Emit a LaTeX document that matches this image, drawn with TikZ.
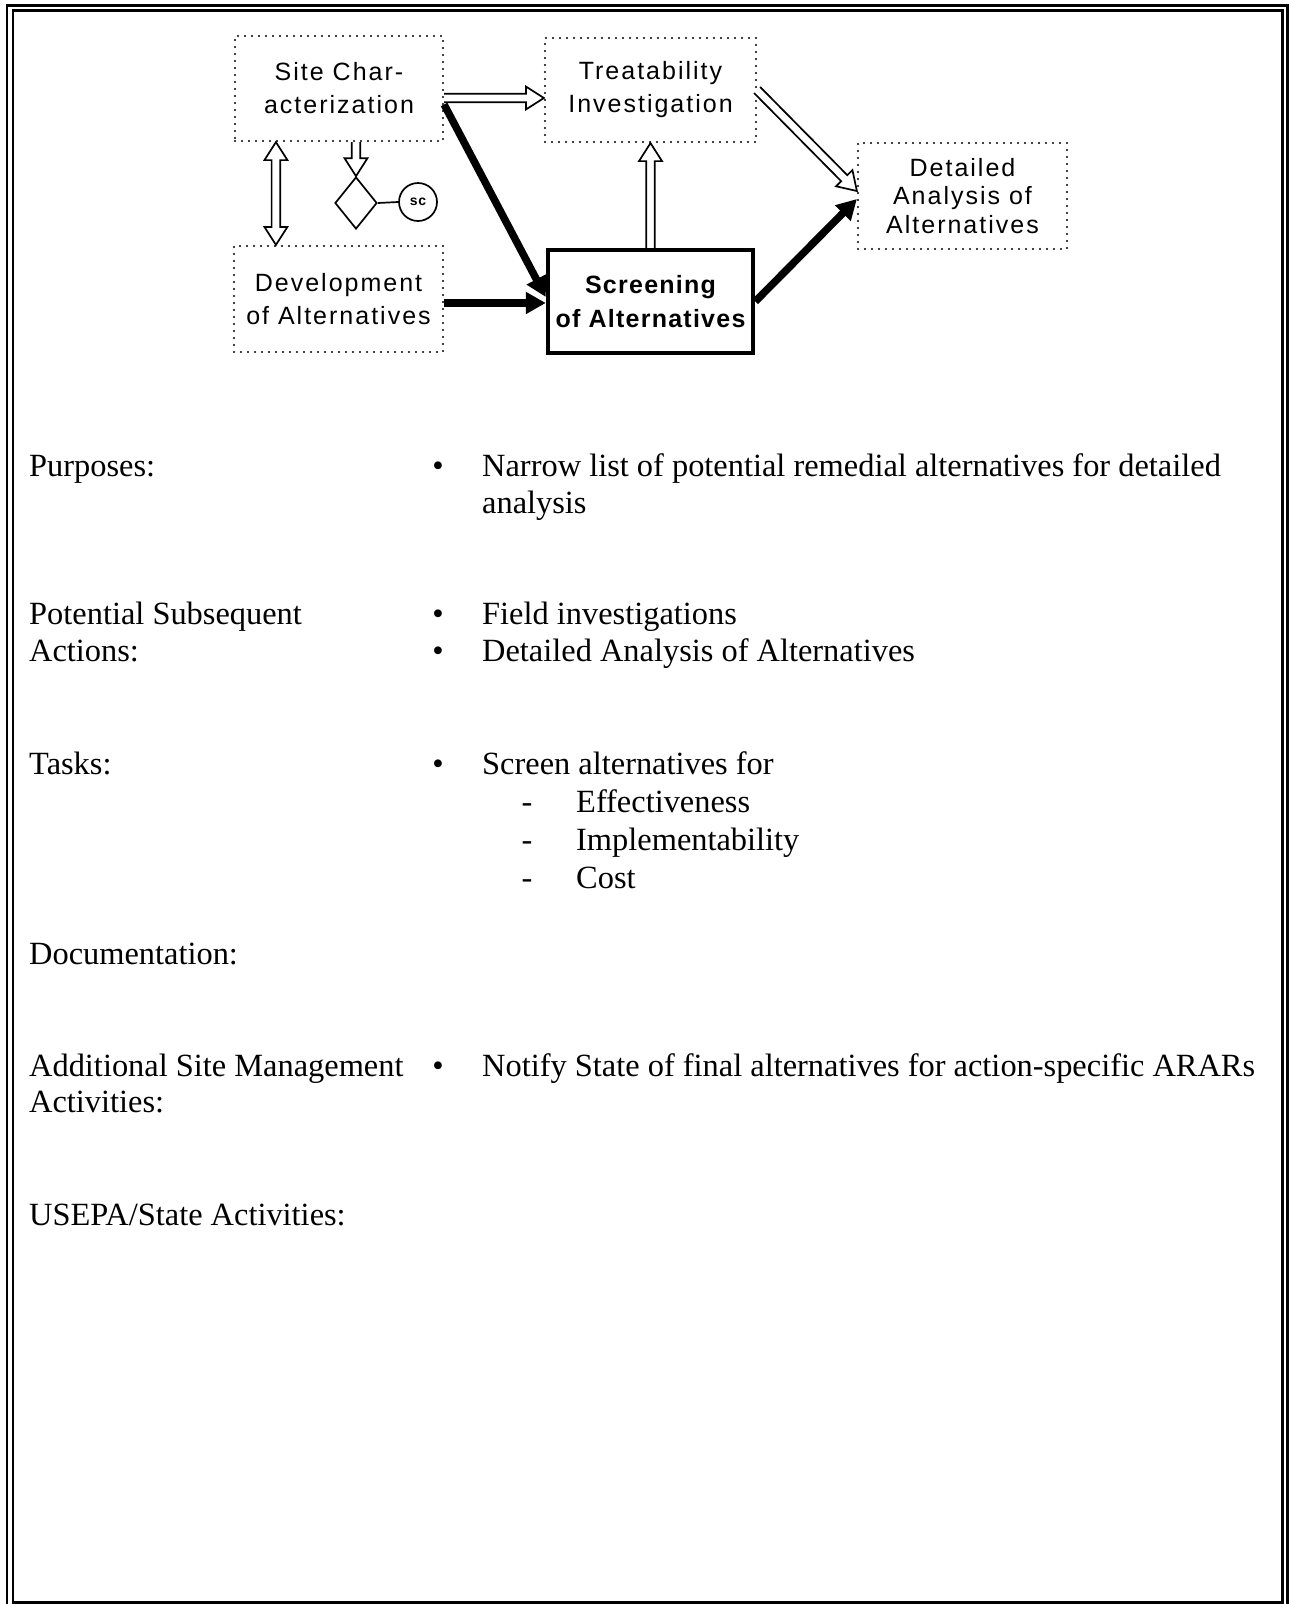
\documentclass[tikz,border=0pt]{standalone}
\usepackage{fontspec}
\setmainfont{Liberation Serif}
\newfontfamily\diagfont{Liberation Sans}[LetterSpace=8]
\newfontfamily\diagbold{Liberation Sans}[LetterSpace=5]
\usetikzlibrary{calc,arrows.meta,shapes.geometric}
\tikzset{
  dotbox/.style={draw, line width=2.2pt, dash pattern=on 0pt off 7pt, line cap=round,
    minimum width=209pt, minimum height=106pt, inner sep=0pt, align=center,
    font=\diagfont\fontsize{25}{33}\selectfont},
  mainbox/.style={draw, line width=4.5pt, minimum width=205pt, minimum height=103pt,
    inner sep=0pt, align=center, font=\diagbold\bfseries\fontsize{25}{34}\selectfont},
  hollowarr/.style={draw, line width=1.7pt, fill=white, line join=miter},
  thickarr/.style={line width=7.5pt, -{Triangle[length=20pt,width=21pt]}},
  txt/.style={anchor=base west, inner sep=0pt, font=\fontsize{32.4}{37}\selectfont},
  bul/.style={anchor=base, inner sep=0pt, font=\fontsize{32.4}{37}\selectfont},
  frame/.style={line width=2.5pt}
}
\newcommand\harrow[2]{%
  \path ($(#2)!18pt!(#1)$) coordinate (hh);
  \draw[hollowarr] ($(#1)!4.3pt!90:(#2)$) -- ($(hh)!4.3pt!90:(#2)$) -- ($(hh)!11.5pt!90:(#2)$) -- (#2)
     -- ($(hh)!11.5pt!-90:(#2)$) -- ($(hh)!4.3pt!-90:(#2)$) -- ($(#1)!4.3pt!-90:(#2)$);
}
\newcommand\hdarrow[2]{%
  \path ($(#2)!18pt!(#1)$) coordinate (hh) ($(#1)!18pt!(#2)$) coordinate (hg);
  \draw[hollowarr] (#1) -- ($(hg)!11.5pt!90:(#2)$) -- ($(hg)!4.3pt!90:(#2)$) -- ($(hh)!4.3pt!90:(#2)$)
     -- ($(hh)!11.5pt!90:(#2)$) -- (#2) -- ($(hh)!11.5pt!-90:(#2)$) -- ($(hh)!4.3pt!-90:(#2)$)
     -- ($(hg)!4.3pt!-90:(#2)$) -- ($(hg)!11.5pt!-90:(#2)$) -- cycle;
}
\begin{document}
\begin{tikzpicture}[x=1pt,y=-1pt]
\useasboundingbox (0,0) rectangle (1289,1604);
% frame
\draw[frame] (7,5.5) rectangle (1287.5,1612);
\draw[frame] (13,10.5) rectangle (1282.5,1602.5);
% boxes
\node[dotbox, minimum width=208pt, minimum height=105pt] (sc) at (339,88.5) {Site Char-\\acterization};
\node[dotbox, minimum width=211pt, minimum height=104pt] (ti) at (650.5,90) {Treatability\\Investigation};
\node[dotbox, font=\diagfont\fontsize{25}{28.6}\selectfont] (da) at (962.5,196) {Detailed\\Analysis of\\Alternatives};
\node[dotbox] (dev) at (338.5,299) {Development\\of Alternatives};
\node[mainbox] (scr) at (650.5,301.5) {Screening\\of Alternatives};
\node[draw, diamond, line width=1.7pt, minimum width=42pt, minimum height=52pt, inner sep=0pt] (dm) at (356,203) {};
\node[draw, circle, line width=1.7pt, minimum size=38pt, inner sep=0pt, font=\diagbold\bfseries\fontsize{14}{14}\selectfont] (ci) at (418,202) {sc};
\draw[line width=1.7pt] (dm.east) -- (ci.west);
% anchor coordinates
\coordinate (a1) at ([yshift=-9.5pt]sc.east);
\coordinate (a2) at ([yshift=-8pt]ti.west);
\coordinate (b1) at (ti.east);
\coordinate (b2) at ([yshift=5pt]da.west);
\coordinate (c1) at (scr.north);
\coordinate (c2) at (ti.south);
\coordinate (d1) at ($(sc.south west)!0.2!(sc.south east)$);
\coordinate (d2) at (d1 |- dev.north);
\coordinate (e1) at (dm.north |- sc.south);
\coordinate (f1) at ([yshift=-16pt]sc.east);
\coordinate (f2) at ([yshift=4.5pt]scr.west);
\coordinate (g1) at ([yshift=-4pt]dev.east);
\coordinate (g2) at ([yshift=-1.5pt]scr.west);
\coordinate (h1) at (scr.east);
\coordinate (h2) at ([yshift=-3pt]da.west);
% hollow arrows
\harrow{a1}{a2}
\harrow{b1}{b2}
\harrow{c1}{c2}
\harrow{e1}{dm.north}
\hdarrow{d1}{d2}
% thick arrows
\draw[thickarr] (f1) -- (f2);
\draw[thickarr] (g1) -- (g2);
\draw[thickarr] (h1) -- (h2);
% text
\node[txt] (l1) at (29,476) {Purposes:};
\node[bul] (b1a) at (438,476) {\textbullet};
\node[txt] (t1) at (482,476) {Narrow list of potential remedial alternatives for detailed};
\node[txt] (t1b) at (482,513) {analysis};
\node[txt] (l2) at (29,624) {Potential Subsequent};
\node[txt] (l2b) at (29,661) {Actions:};
\node[bul] (b2a) at (438,624) {\textbullet};
\node[bul] (b2b) at (438,661) {\textbullet};
\node[txt] (t2) at (482,624) {Field investigations};
\node[txt] (t2b) at (482,661) {Detailed Analysis of Alternatives};
\node[txt] (l3) at (29,774) {Tasks:};
\node[bul] (b3a) at (438,774) {\textbullet};
\node[txt] (t3) at (482,774) {Screen alternatives for};
\node[bul] (d3a) at (527,812) {-};
\node[bul] (d3b) at (527,850) {-};
\node[bul] (d3c) at (527,888) {-};
\node[txt] (t3a) at (576,812) {Effectiveness};
\node[txt] (t3b) at (576,850) {Implementability};
\node[txt] (t3c) at (576,888) {Cost};
\node[txt] (l4) at (29,964) {Documentation:};
\node[txt] (l5) at (29,1076) {Additional Site Management};
\node[txt] (l5b) at (29,1112) {Activities:};
\node[bul] (b5a) at (438,1076) {\textbullet};
\node[txt] (t5) at (482,1076) {Notify State of final alternatives for action-specific ARARs};
\node[txt] (l6) at (29,1225) {USEPA/State Activities:};
\end{tikzpicture}
\end{document}
